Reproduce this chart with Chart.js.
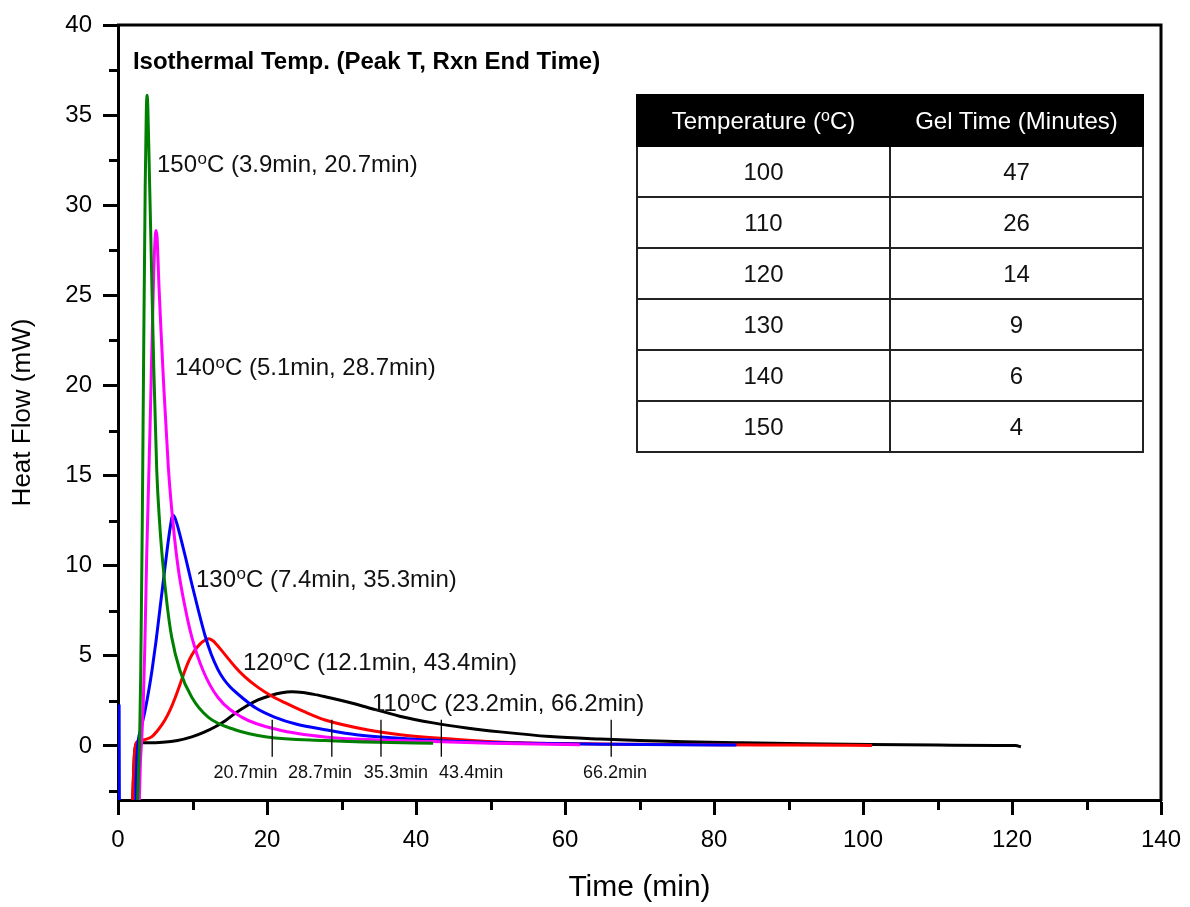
<!DOCTYPE html>
<html><head><meta charset="utf-8">
<script src="https://cdn.jsdelivr.net/npm/chart.js@4.4.1/dist/chart.umd.min.js"></script>
<style>
html,body{margin:0;padding:0;background:#fff;}
#wrap{position:relative;width:1190px;height:907px;overflow:hidden;}
#c{position:absolute;left:0;top:0;}
#tbl{position:absolute;left:636px;top:94px;width:508px;border-collapse:collapse;table-layout:fixed;font-family:'Liberation Sans',Arial,sans-serif;font-size:24px;color:#111;}
#tbl td,#tbl th{border:2px solid #222;padding:0;text-align:center;font-weight:normal;}
#tbl tr{height:51px;}
#tbl th{background:#000;color:#fff;border-color:#000;}
#tbl sup{font-size:16px;vertical-align:8px;line-height:0;}
</style></head>
<body>
<div id="wrap">
<canvas id="c" width="1190" height="907" style="width:1190px;height:907px"></canvas>
<table id="tbl"></table>
</div>
<script>
// ---------- data ----------
const peakTemps = [150, 140, 130, 120, 110];
const peakTimes = [3.9, 5.1, 7.4, 12.1, 23.2];
const endTimes  = [20.7, 28.7, 35.3, 43.4, 66.2];

const t150 = [2.55,2.75,2.9,3.05,3.25,3.45,3.65,3.8,3.9,4.0,4.2,4.5,4.8,5.2,5.6,6.0,6.6,7.2,8.3,9.9,12.1,15.7,20,27.8,35,42.3];
const v150 = [-4,-1.5,0.3,4,12,22,31,35.2,36.1,35.5,32,26.5,21,15.3,12.3,10.2,7.8,6.05,4.2,2.7,1.6,0.9,0.5,0.3,0.2,0.15];

const t140 = [2.8,3.0,3.2,3.4,3.6,3.85,4.1,4.35,4.6,4.8,5.0,5.1,5.25,5.5,5.8,6.1,6.75,7.4,8.1,9.0,9.9,11.4,13.4,16.6,21.5,27.8,35,42.3,50,62];
const v140 = [-4,-1,0.5,2.5,5.5,10.5,14.5,18.5,23,26.3,28.3,28.6,28.2,25.5,22.8,20.3,15.5,12.3,9.8,7.7,6.05,4.2,2.7,1.6,0.9,0.5,0.33,0.24,0.15,0.07];

const t130 = [0.15,0.2,2.3,2.45,2.6,2.75,3.1,3.6,4.1,4.6,5.1,5.6,6.1,6.6,7.0,7.25,7.4,7.6,8.0,8.5,9.1,9.9,10.8,11.7,12.5,13.4,14.2,15,15.8,16.6,18.5,21,24,27.8,32,37.8,46.8,55,65,75,83];
const v130 = [2.3,-4,-4,-1.5,-0.2,0.4,1.0,1.9,3.0,4.3,5.8,7.5,9.2,10.9,12.1,12.7,12.8,12.7,12.2,11.4,10.4,9.0,7.5,6.1,5.1,4.25,3.7,3.3,2.98,2.7,2.1,1.6,1.2,0.9,0.62,0.43,0.23,0.15,0.1,0.06,0.05];

const t120 = [1.9,2.05,2.2,2.4,2.6,3.0,3.6,4.5,5.4,6.3,7.0,7.7,8.4,9.0,9.6,10.3,11.0,11.5,12.2,12.7,13.3,13.9,15.7,17,18.8,20.5,22.4,25,27.8,33.4,37.9,42.3,51,60,70,80,90,101.2];
const v120 = [-4,-2,-0.5,0.12,0.25,0.28,0.35,0.5,0.9,1.44,2.0,2.7,3.5,4.2,4.8,5.3,5.65,5.82,5.95,5.85,5.6,5.3,4.4,3.85,3.25,2.8,2.4,1.9,1.44,0.9,0.62,0.45,0.22,0.13,0.09,0.06,0.05,0.03];

const t110 = [1.9,2.05,2.2,2.4,2.6,4,6,8,9.9,11.5,13,14.4,15.7,17.2,18.8,20.5,22,23.3,24.8,26.3,27.8,30,33.4,37.8,42.3,46.8,51.3,58,64.7,70,76,83.8,92,101,110,118,120.5,121.2];
const v110 = [-4,-2,-0.5,0.08,0.17,0.17,0.2,0.3,0.5,0.75,1.05,1.4,1.8,2.2,2.55,2.8,2.95,3.0,2.96,2.86,2.73,2.52,2.15,1.65,1.28,1.0,0.78,0.52,0.38,0.3,0.23,0.17,0.12,0.08,0.05,0.03,0.02,-0.05];

const markerTop = 1.45, markerBottom = -0.6;
const tableTemps = [100, 110, 120, 130, 140, 150];
const gelTimes   = [47, 26, 14, 9, 6, 4];

// label anchor positions (data coords)
const peakLabelT = [5.23, 7.65, 10.47, 16.78, 34.1];
const peakLabelV = [32.3, 21.03, 9.3, 4.7, 2.42];
const endLabelT  = [17.1, 27.1, 37.3, 47.4, 66.7];
const endLabelV  = -1.5;
const titlePos   = [2.0, 37.9];

// ---------- table ----------
(function(){
  const tb = document.getElementById('tbl');
  let h = '<tr><th>Temperature (<sup>o</sup>C)</th><th>Gel Time (Minutes)</th></tr>';
  tableTemps.forEach((t,i)=>{ h += '<tr><td>'+t+'</td><td>'+gelTimes[i]+'</td></tr>'; });
  tb.innerHTML = h;
})();

// ---------- chart ----------
const FAM = "'Liberation Sans', Arial, sans-serif";
const zip = (ts, vs) => ts.map((t,i)=>({x:t, y:vs[i]}));
const curve = (ts, vs, col) => ({data: zip(ts, vs), borderColor: col, borderWidth: 3, showLine: true,
  pointRadius: 0, cubicInterpolationMode: 'monotone', fill: false});

const markerSets = endTimes.map(t => ({data: [{x:t, y:markerBottom},{x:t, y:markerTop}], borderColor:'#000',
  borderWidth: 1.3, showLine: true, pointRadius: 0}));

const datasets = [
  ...markerSets,
  curve(t150, v150, '#008000'),
  curve(t140, v140, '#ff00ff'),
  curve(t130, v130, '#0000ff'),
  curve(t120, v120, '#ff0000'),
  curve(t110, v110, '#000000')
];

function drawDegLabel(ctx, num, rest, x, y, size){
  ctx.font = size + 'px ' + FAM;
  ctx.textBaseline = 'alphabetic';
  ctx.textAlign = 'left';
  const base = y + size*0.358;
  ctx.fillText(num, x, base);
  let w = ctx.measureText(num).width;
  const ss = Math.round(size*0.72);
  ctx.font = ss + 'px ' + FAM;
  ctx.fillText('o', x + w + 0.5, base - size*0.33);
  w += ctx.measureText('o').width + 0.5;
  ctx.font = size + 'px ' + FAM;
  ctx.fillText(rest, x + w, base);
}

const annoPlugin = {
  id: 'anno',
  afterDatasetsDraw(chart){
    const {ctx, chartArea: ca} = chart;
    const xs = chart.scales.x, ys = chart.scales.y;
    ctx.save();
    ctx.strokeStyle = '#000'; ctx.lineWidth = 3; ctx.lineCap = 'butt';
    ctx.beginPath(); ctx.moveTo(ca.left-1, ca.top); ctx.lineTo(ca.right, ca.top); ctx.lineTo(ca.right, ca.bottom+1); ctx.stroke();
    // minor ticks
    ctx.beginPath();
    for (let v = -2.5; v < 40; v += 5){ const p = Math.round(ys.getPixelForValue(v))+0.5; ctx.moveTo(ca.left, p); ctx.lineTo(ca.left-9, p); }
    for (let t = 10; t < 140; t += 20){ const p = Math.round(xs.getPixelForValue(t))+0.5; ctx.moveTo(p, ca.bottom); ctx.lineTo(p, ca.bottom+10); }
    ctx.stroke();
    ctx.fillStyle = '#000';
    // title
    ctx.font = 'bold 24px ' + FAM; ctx.textBaseline = 'middle'; ctx.textAlign = 'left';
    ctx.fillText('Isothermal Temp. (Peak T, Rxn End Time)', xs.getPixelForValue(titlePos[0]), ys.getPixelForValue(titlePos[1]));
    // peak labels
    ctx.fillStyle = '#111';
    peakTemps.forEach((T,i)=>{
      drawDegLabel(ctx, String(T), 'C (' + peakTimes[i] + 'min, ' + endTimes[i] + 'min)',
        xs.getPixelForValue(peakLabelT[i]), ys.getPixelForValue(peakLabelV[i]), 24);
    });
    // end-time labels
    ctx.font = '18px ' + FAM; ctx.textAlign = 'center'; ctx.textBaseline = 'middle';
    endTimes.forEach((t,i)=>{
      ctx.fillText(t + 'min', xs.getPixelForValue(endLabelT[i]), ys.getPixelForValue(endLabelV));
    });
    ctx.restore();
  }
};

new Chart(document.getElementById('c'), {
  type: 'scatter',
  data: {datasets},
  options: {
    responsive: false, animation: false, devicePixelRatio: 1,
    layout: {padding: {top: 25, right: 29, left: 0, bottom: 0}},
    plugins: {legend: {display: false}, tooltip: {enabled: false}},
    scales: {
      x: {
        type: 'linear', min: 0, max: 140,
        ticks: {stepSize: 20, includeBounds: false, color: '#000', font: {size: 24, family: FAM}, padding: 11, maxRotation: 0},
        grid: {drawOnChartArea: false, drawTicks: true, tickLength: 15, tickWidth: 3, tickColor: '#000'},
        border: {display: true, width: 3, color: '#000'},
        title: {display: true, text: 'Time (min)', color: '#000', font: {size: 30, family: FAM}, padding: {top: 0, bottom: 1}},
        afterFit(s){ s.height = 107; s.paddingLeft = 0; s.paddingRight = 0; }
      },
      y: {
        type: 'linear', min: -3, max: 40,
        ticks: {stepSize: 5, includeBounds: false, color: '#000', font: {size: 24, family: FAM}, padding: 11},
        grid: {drawOnChartArea: false, drawTicks: true, tickLength: 15, tickWidth: 3, tickColor: '#000'},
        border: {display: true, width: 3, color: '#000'},
        title: {display: true, text: 'Heat Flow (mW)', color: '#000', font: {size: 26, family: FAM}, padding: {top: 7, bottom: 0}},
        afterFit(s){ s.width = 118; s.paddingTop = 0; s.paddingBottom = 0; }
      }
    }
  },
  plugins: [annoPlugin]
});
</script>
</body></html>
